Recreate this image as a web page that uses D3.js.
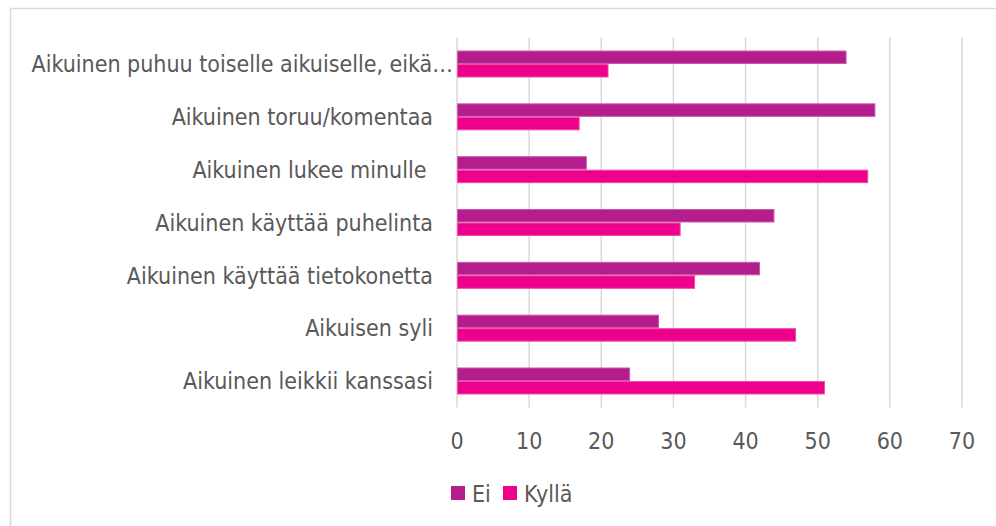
<!DOCTYPE html>
<html>
<head>
<meta charset="utf-8">
<script src="https://cdn.jsdelivr.net/npm/d3@7"></script>
<style>
  html, body { margin: 0; padding: 0; background: #fff; }
  svg { display: block; }
  text { font-family: "DejaVu Sans Condensed", "DejaVu Sans", sans-serif; font-stretch: condensed; fill: #595959; white-space: pre; }
</style>
</head>
<body>
<svg id="chart" width="996" height="526"></svg>
<script>
const categories = [
  "Aikuinen puhuu toiselle aikuiselle, eikä…",
  "Aikuinen toruu/komentaa",
  "Aikuinen lukee minulle ",
  "Aikuinen käyttää puhelinta",
  "Aikuinen käyttää tietokonetta",
  "Aikuisen syli",
  "Aikuinen leikkii kanssasi"
];
const seriesNames = ["Ei", "Kyllä"];
const eiValues = [54, 58, 18, 44, 42, 28, 24];
const kyllaValues = [21, 17, 57, 31, 33, 47, 51];
const xTicks = [0, 10, 20, 30, 40, 50, 60, 70];
const colors = ["#B31E8C", "#EC008C"];
const strokeColors = ["#C95BAE", "#F04CA8"];

const svg = d3.select("#chart");
const W = 996, H = 526;
const plot = { left: 457, right: 962, top: 37.6, bottom: 407.4 };

// chart border (top and left visible)
svg.append("line").attr("x1", 10.5).attr("x2", W).attr("y1", 8.5).attr("y2", 8.5)
  .attr("stroke", "#D9D9D9").attr("stroke-width", 1.5);
svg.append("line").attr("x1", 10.5).attr("x2", 10.5).attr("y1", 8.5).attr("y2", H)
  .attr("stroke", "#D9D9D9").attr("stroke-width", 1.5);

const x = d3.scaleLinear().domain([0, 70]).range([plot.left, plot.right]);
const y = d3.scaleBand().domain(categories).range([plot.top, plot.bottom])
  .paddingInner(0.489).paddingOuter(0.2445);
const ySub = d3.scaleBand().domain(seriesNames).range([0, y.bandwidth()]);

// gridlines
svg.append("g").selectAll("line").data(xTicks).join("line")
  .attr("x1", d => x(d)).attr("x2", d => x(d))
  .attr("y1", plot.top).attr("y2", plot.bottom)
  .attr("stroke", "#D9D9D9").attr("stroke-width", 1.5);

// bars
const data = categories.map((c, i) => ({ c, vals: [eiValues[i], kyllaValues[i]] }));
const groups = svg.append("g").selectAll("g").data(data).join("g")
  .attr("transform", d => `translate(0,${y(d.c)})`);
groups.selectAll("rect").data(d => d.vals.map((v, j) => ({ v, s: seriesNames[j], j })))
  .join("rect")
  .attr("x", x(0) + 0.5)
  .attr("y", d => ySub(d.s) + 0.5)
  .attr("width", d => x(d.v) - x(0) - 1)
  .attr("height", ySub.bandwidth() - 1)
  .attr("fill", d => colors[d.j])
  .attr("stroke", d => strokeColors[d.j])
  .attr("stroke-width", 1);

// category labels
svg.append("g").selectAll("text").data(categories).join("text")
  .attr("x", d => d.endsWith("…") ? 453 : 433)
  .attr("y", d => y(d) + y.bandwidth() / 2)
  .attr("dy", "0.36em")
  .attr("text-anchor", "end")
  .attr("font-size", 23)
  .text(d => d);

// x tick labels
svg.append("g").selectAll("text").data(xTicks).join("text")
  .attr("x", d => x(d))
  .attr("y", 449)
  .attr("text-anchor", "middle")
  .attr("font-size", 23)
  .text(d => d);

// legend
const legendX = [451, 503];
const lg = svg.append("g").selectAll("g").data(seriesNames).join("g")
  .attr("transform", (d, i) => `translate(${legendX[i]},486)`);
lg.append("rect").attr("width", 14).attr("height", 14).attr("fill", (d, i) => colors[i]);
lg.append("text").attr("x", 21).attr("y", 16).attr("font-size", 23).text(d => d);
</script>
</body>
</html>
